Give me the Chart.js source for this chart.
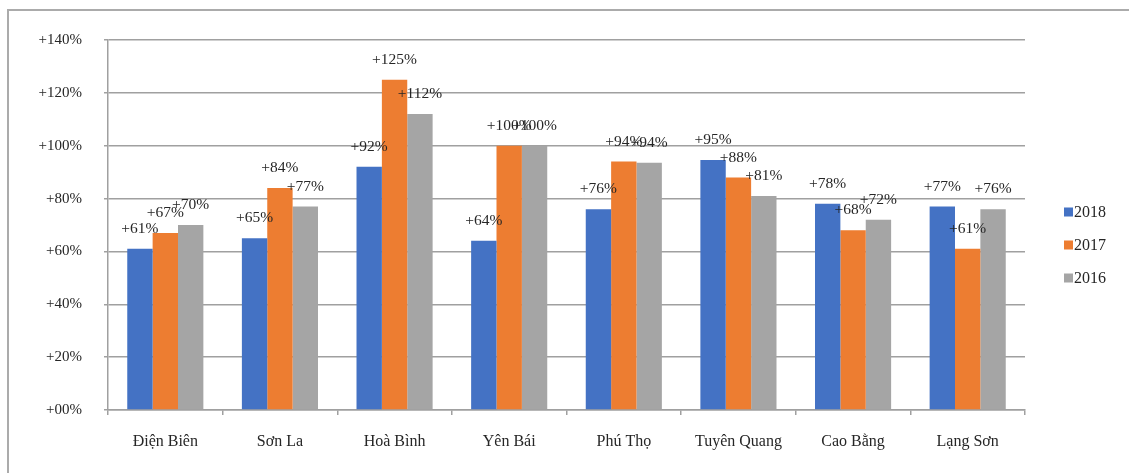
<!DOCTYPE html>
<html>
<head>
<meta charset="utf-8">
<script src="https://cdn.jsdelivr.net/npm/chart.js@4"></script>
<style>
  html, body { margin: 0; padding: 0; background: #fff; }
  #wrap { position: relative; width: 1129px; height: 473px; overflow: hidden; }
  #frame { position: absolute; left: 7px; top: 9px; width: 1200px; height: 600px;
           border-left: 2px solid #ababab; border-top: 2px solid #ababab; box-sizing: border-box; }
  canvas { position: absolute; left: 0; top: 0; }
</style>
</head>
<body>
<div id="wrap">
  <div id="frame"></div>
  <canvas id="c" width="1129" height="473"></canvas>
</div>
<script>
const categories = ['Điện Biên', 'Sơn La', 'Hoà Bình', 'Yên Bái', 'Phú Thọ', 'Tuyên Quang', 'Cao Bằng', 'Lạng Sơn'];
const seriesNames = ['2018', '2017', '2016'];
const values2018 = [61, 65, 92, 64, 76, 94.6, 78, 77];
const values2017 = [67, 84, 125, 100, 94, 88, 68, 61];
const values2016 = [70, 77, 112, 100, 93.6, 81, 72, 76];
const yTicks = [0, 20, 40, 60, 80, 100, 120, 140];
const colors = ['#4472C4', '#ED7D31', '#A5A5A5'];

const FONT = "'Liberation Serif', 'Times New Roman', serif";
const fmt = v => '+' + String(Math.round(v)).padStart(2, '0') + '%';

const labelPlugin = {
  id: 'barLabels',
  afterDatasetsDraw(chart) {
    const ctx = chart.ctx;
    ctx.save();
    ctx.font = '15.5px ' + FONT;
    ctx.fillStyle = '#262626';
    ctx.textAlign = 'center';
    ctx.textBaseline = 'middle';
    chart.data.datasets.forEach((ds, i) => {
      const meta = chart.getDatasetMeta(i);
      meta.data.forEach((el, j) => {
        ctx.fillText(fmt(ds.data[j]), el.x, el.y - 20);
      });
    });
    ctx.restore();
  }
};

const legendPlugin = {
  id: 'sideLegend',
  afterDraw(chart) {
    const ctx = chart.ctx;
    ctx.save();
    ctx.font = '16px ' + FONT;
    ctx.textAlign = 'left';
    ctx.textBaseline = 'middle';
    chart.data.datasets.forEach((ds, i) => {
      const cy = 212 + i * 33;
      ctx.fillStyle = ds.backgroundColor;
      ctx.fillRect(1064, cy - 4.5, 9, 9);
      ctx.fillStyle = '#262626';
      ctx.fillText(ds.label, 1074, cy + 1);
    });
    ctx.restore();
  }
};

new Chart(document.getElementById('c'), {
  type: 'bar',
  data: {
    labels: categories,
    datasets: [
      { label: seriesNames[0], data: values2018, backgroundColor: colors[0] },
      { label: seriesNames[1], data: values2017, backgroundColor: colors[1] },
      { label: seriesNames[2], data: values2016, backgroundColor: colors[2] }
    ]
  },
  options: {
    responsive: false,
    animation: false,
    devicePixelRatio: 1,
    layout: { padding: { top: 40, right: 104, bottom: 0, left: 0 } },
    plugins: { legend: { display: false }, tooltip: { enabled: false } },
    datasets: { bar: { categoryPercentage: 0.664, barPercentage: 1.0 } },
    scales: {
      x: {
        grid: { display: true, drawOnChartArea: false, drawTicks: true, tickLength: 5, color: '#a0a0a0', lineWidth: 1.5, offset: true },
        border: { display: true, color: '#a0a0a0', width: 1.5 },
        ticks: { color: '#262626', font: { family: FONT, size: 16 }, padding: 17, maxRotation: 0 },
        afterFit: s => { s.height = 63; }
      },
      y: {
        min: 0, max: 140,
        afterBuildTicks: s => { s.ticks = yTicks.map(v => ({ value: v })); },
        grid: { color: '#a0a0a0', lineWidth: 1.5, drawTicks: true, tickLength: 4 },
        border: { display: true, color: '#a0a0a0', width: 1.5 },
        ticks: { color: '#262626', font: { family: FONT, size: 15 }, padding: 22, callback: v => fmt(v) },
        afterFit: s => { s.width = 108; }
      }
    }
  },
  plugins: [labelPlugin, legendPlugin]
});
</script>
</body>
</html>
